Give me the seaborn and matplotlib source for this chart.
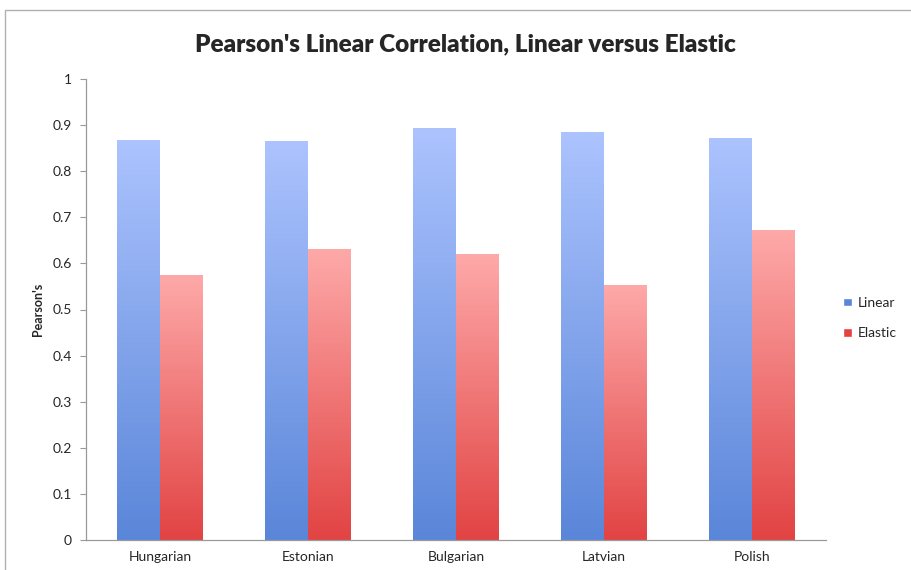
import numpy as np
import pandas as pd
import matplotlib
matplotlib.use("Agg")
import matplotlib.pyplot as plt
import seaborn as sns
from matplotlib.colors import LinearSegmentedColormap
from matplotlib.patches import Rectangle

languages = ["Hungarian", "Estonian", "Bulgarian", "Latvian", "Polish"]
linear = [0.866, 0.864, 0.893, 0.884, 0.872]
elastic = [0.573, 0.630, 0.620, 0.551, 0.671]
series = ["Linear", "Elastic"]

df = pd.DataFrame({"language": languages * 2,
                   "model": ["Linear"] * 5 + ["Elastic"] * 5,
                   "value": linear + elastic})

sns.set_style("white")
plt.rcParams["font.family"] = ["Lato", "DejaVu Sans"]

# bottom/top colours of the gradient fill
grads = {
    "Linear": ("#5a86d9", "#acc3fe"),
    "Elastic": ("#e24343", "#fea9a9"),
}

fig = plt.figure(figsize=(9.12, 5.7), dpi=100)
ax = fig.add_axes([86 / 912, 30 / 570, 740 / 912, 461 / 570])

sns.barplot(data=df, x="language", y="value", hue="model", order=languages,
            hue_order=series, palette=[grads[s][0] for s in series],
            width=0.58, ax=ax, legend=False)

# replace flat fill with vertical gradient per bar
grad = np.linspace(0, 1, 256).reshape(-1, 1)
for container, name in zip(ax.containers, series):
    cmap = LinearSegmentedColormap.from_list(name, list(grads[name]))
    for bar in container:
        x0, y0 = bar.get_x(), bar.get_y()
        w, h = bar.get_width(), bar.get_height()
        bar.set_facecolor("none")
        bar.set_edgecolor("none")
        ax.imshow(grad, extent=[x0, x0 + w, y0, y0 + h], origin="lower",
                  cmap=cmap, aspect="auto", zorder=2)

ax.set_xlim(-0.5, len(languages) - 0.5)
ax.set_ylim(0, 1)
ax.set_yticks(np.arange(0, 1.01, 0.1))
ax.set_yticklabels(["0", "0.1", "0.2", "0.3", "0.4", "0.5", "0.6", "0.7", "0.8", "0.9", "1"])
ax.set_xticks(range(len(languages)))
ax.set_xticklabels(languages)
ax.set_xticks(np.arange(-0.5, len(languages), 1), minor=True)
ax.tick_params(axis="x", which="major", length=0, labelsize=10, pad=8)
ax.tick_params(axis="x", which="minor", length=5, color="#999999", direction="out")
ax.tick_params(axis="y", length=4, color="#999999", direction="out", labelsize=10,
               left=True, pad=6)
for s in ["top", "right"]:
    ax.spines[s].set_visible(False)
for s in ["left", "bottom"]:
    ax.spines[s].set_color("#999999")
    ax.spines[s].set_linewidth(0.9)

ax.set_xlabel("")
ax.set_ylabel("Pearson's", fontsize=9, fontweight="bold", labelpad=6)
fig.suptitle("Pearson's Linear Correlation, Linear versus Elastic",
             fontsize=17.5, fontweight="heavy", x=465 / 912, y=1 - 44 / 570, va="center")

# legend
handles = [Rectangle((0, 0), 1, 1, facecolor=grads[s][0]) for s in series]
leg = fig.legend(handles, series, loc="center left",
                 bbox_to_anchor=(831 / 912, 1 - 318 / 570), frameon=False,
                 fontsize=10, handlelength=0.6, handleheight=0.6,
                 handletextpad=0.4, labelspacing=1.3)

# thin frame around the chart area
fig.add_artist(Rectangle((5 / 912, -0.1), 1.0, 1 - 10 / 570 + 0.1, transform=fig.transFigure,
                         fill=False, edgecolor="#b0b0b0", linewidth=1))

fig.savefig("out.png", dpi=100)
